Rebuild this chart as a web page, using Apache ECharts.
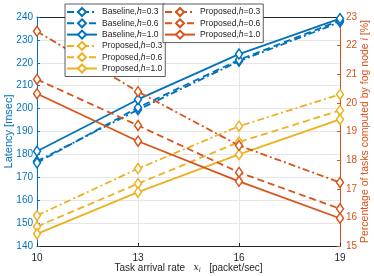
<!DOCTYPE html>
<html><head><meta charset="utf-8">
<script src="https://cdn.jsdelivr.net/npm/echarts@6/dist/echarts.min.js"></script>
<style>html,body{margin:0;padding:0;background:#fff}#c{width:374px;height:276px}</style>
</head><body><div id="c"></div>
<script>
const xValues = [10, 13, 16, 19];
const xTicks = [10, 13, 16, 19];
const leftTicks = [140,150,160,170,180,190,200,210,220,230,240];
const rightTicks = [15,16,17,18,19,20,21,22,23];
// Latency [msec] (left axis)
const baseline03 = [177.0, 199.5, 220.7, 237.8];
const baseline06 = [176.3, 200.5, 221.3, 238.5];
const baseline10 = [181.4, 204.0, 223.8, 239.3];
const proposedLat03 = [153.3, 173.8, 192.3, 206.2];
const proposedLat06 = [148.5, 167.2, 185.4, 199.2];
const proposedLat10 = [145.3, 163.5, 180.0, 195.3];
// Percentage of tasks computed by fog node i [%] (right axis)
const proposedPct03 = [22.5, 20.39, 18.51, 17.22];
const proposedPct06 = [20.82, 19.21, 17.57, 16.3];
const proposedPct10 = [20.32, 18.66, 17.26, 15.97];

const BLUE = '#0072BD', ORANGE = '#D95319', YELLOW = '#EDB120';
const DASHDOT = [7, 3, 2, 3], DASHED = [7, 4];
const FONT = 'Liberation Sans';

function mk(name, data, color, dash, yIdx) {
  return {
    name: name, type: 'line', yAxisIndex: yIdx,
    data: xValues.map((x, i) => [x, data[i]]),
    symbol: 'diamond', symbolSize: [7, 10], showSymbol: true,
    color: color,
    lineStyle: { color: color, width: 1.8, type: dash },
    itemStyle: { color: '#fff', borderColor: color, borderWidth: 1.5 },
    emphasis: { disabled: true }, animation: false
  };
}
const labels = {
  'b03': ['Baseline,', '0.3'], 'b06': ['Baseline,', '0.6'], 'b10': ['Baseline,', '1.0'],
  'pl03': ['Proposed,', '0.3'], 'pl06': ['Proposed,', '0.6'], 'pl10': ['Proposed,', '1.0'],
  'pp03': ['Proposed,', '0.3'], 'pp06': ['Proposed,', '0.6'], 'pp10': ['Proposed,', '1.0']
};
function fmt(n) { const l = labels[n]; return '{t|' + l[0] + '}{i|h}{t|=' + l[1] + '}'; }
const legRich = {
  t: { fontFamily: FONT, fontSize: 8.5, color: '#222', lineHeight: 10 },
  i: { fontFamily: FONT, fontSize: 8.5, color: '#222', fontStyle: 'italic', lineHeight: 10 }
};
const legendCommon = {
  orient: 'vertical', backgroundColor: '#fff', borderColor: '#333', borderWidth: 0.8,
  borderRadius: 0, padding: [3, 3, 3, 1], itemGap: 1.3, itemWidth: 30, itemHeight: 10,
  formatter: fmt, textStyle: { rich: legRich }, selectedMode: false
};

const chart = echarts.init(document.getElementById('c'), null, { renderer: 'canvas' });
chart.setOption({
  animation: false,
  backgroundColor: '#fff',
  grid: { left: 37, right: 34, top: 17, bottom: 30, containLabel: false, outerBoundsMode: 'none' },
  legend: [
    Object.assign({}, legendCommon, { left: 65, top: 4, data: ['b03','b06','b10','pl03','pl06','pl10'] }),
    Object.assign({}, legendCommon, { left: 163, top: 4, data: ['pp03','pp06','pp10'] })
  ],
  xAxis: [{
    type: 'value', min: 10, max: 19, interval: 3,
    axisLine: { show: true, lineStyle: { color: '#262626', width: 1 } },
    axisTick: { show: true, inside: true, length: 3, lineStyle: { color: '#262626' } },
    axisLabel: { fontFamily: FONT, fontSize: 10, color: '#262626', margin: 7 },
    splitLine: { show: true, lineStyle: { color: '#e6e6e6', width: 1 } },
    name: '{t|Task arrival rate   }{i|x}{s|i}{t|   [packet/sec]}',
    nameLocation: 'middle', nameGap: 16, nameMoveOverlap: false,
    nameTextStyle: { rich: {
      t: { fontFamily: FONT, fontSize: 10, color: '#262626' },
      i: { fontFamily: 'DejaVu Serif', fontSize: 9.5, color: '#262626', fontStyle: 'italic' },
      s: { fontFamily: 'DejaVu Serif', fontSize: 6.5, color: '#262626', fontStyle: 'italic', padding: [5, 0, 0, 0] }
    } }
  }, {
    type: 'value', min: 10, max: 19, interval: 3, position: 'top',
    axisLine: { show: true, lineStyle: { color: '#262626', width: 1 } },
    axisTick: { show: false }, axisLabel: { show: false }, splitLine: { show: false }
  }],
  yAxis: [{
    type: 'value', min: 140, max: 240, interval: 10, position: 'left',
    axisLine: { show: true, lineStyle: { color: BLUE, width: 1 } },
    axisTick: { show: true, inside: true, length: 3, lineStyle: { color: BLUE } },
    axisLabel: { fontFamily: FONT, fontSize: 10, color: BLUE, margin: 4 },
    splitLine: { show: true, lineStyle: { color: '#e6e6e6', width: 1 } },
    name: 'Latency [msec]', nameLocation: 'middle', nameGap: 23, nameMoveOverlap: false,
    nameTextStyle: { fontFamily: FONT, fontSize: 11, color: BLUE }
  }, {
    type: 'value', min: 15, max: 23, interval: 1, position: 'right',
    axisLine: { show: true, lineStyle: { color: ORANGE, width: 1 } },
    axisTick: { show: true, inside: true, length: 3, lineStyle: { color: ORANGE } },
    axisLabel: { fontFamily: FONT, fontSize: 10, color: ORANGE, margin: 6 },
    splitLine: { show: false },
    name: '{t|Percentage of tasks computed by fog node }{i|i}{t| [%]}',
    nameLocation: 'middle', nameGap: 20, nameRotate: 90, nameMoveOverlap: false,
    nameTextStyle: { rich: {
      t: { fontFamily: FONT, fontSize: 10.5, color: ORANGE },
      i: { fontFamily: FONT, fontSize: 10.5, color: ORANGE, fontStyle: 'italic' }
    } }
  }],
  series: [
    mk('b03', baseline03, BLUE, DASHDOT, 0),
    mk('b06', baseline06, BLUE, DASHED, 0),
    mk('b10', baseline10, BLUE, 'solid', 0),
    mk('pl03', proposedLat03, YELLOW, DASHDOT, 0),
    mk('pl06', proposedLat06, YELLOW, DASHED, 0),
    mk('pl10', proposedLat10, YELLOW, 'solid', 0),
    mk('pp03', proposedPct03, ORANGE, DASHDOT, 1),
    mk('pp06', proposedPct06, ORANGE, DASHED, 1),
    mk('pp10', proposedPct10, ORANGE, 'solid', 1)
  ]
});
</script></body></html>
